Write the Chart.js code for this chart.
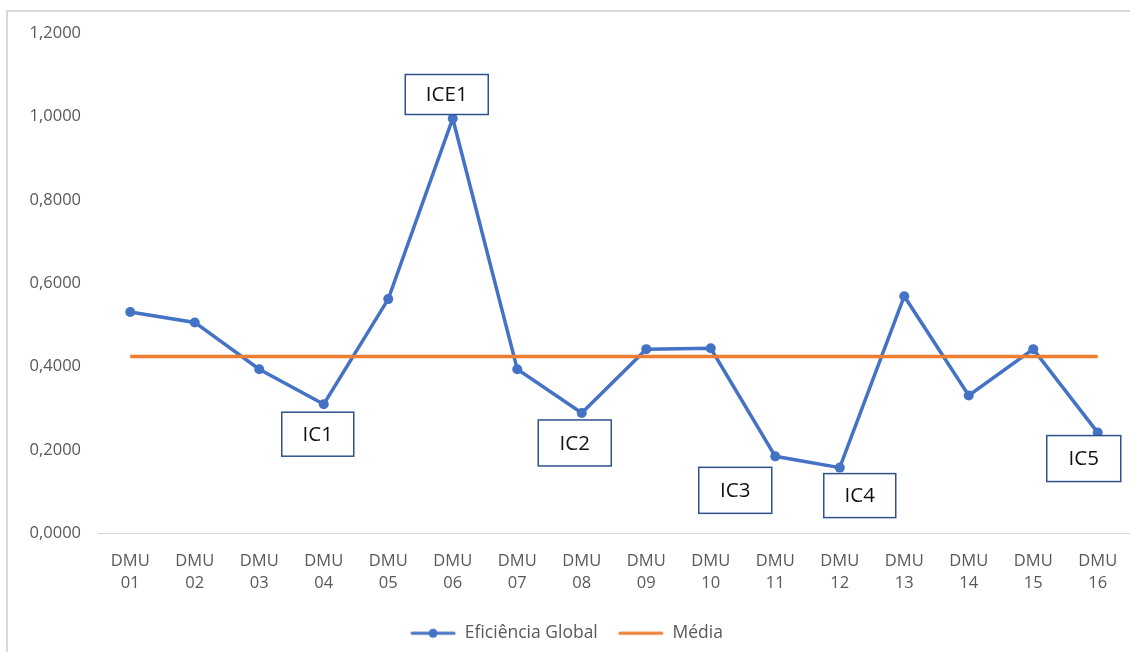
<!DOCTYPE html>
<html>
<head>
<meta charset="utf-8">
<script src="https://cdn.jsdelivr.net/npm/chart.js@4.4.1/dist/chart.umd.min.js"></script>
<style>
  html, body { margin: 0; padding: 0; background: #fff; overflow: hidden; }
  #frame {
    position: absolute; left: 6px; top: 10px;
    width: 1140px; height: 660px;
    border: 2px solid #d9d9d9;
  }
  #wrap { position: absolute; left: 0; top: 0; width: 1135px; height: 652px; }
</style>
</head>
<body>
<div id="frame"></div>
<div id="wrap"><canvas id="chart"></canvas></div>
<script>
// categorias (DMUs)
const dmus = ["01", "02", "03", "04", "05", "06", "07", "08",
              "09", "10", "11", "12", "13", "14", "15", "16"];

// eficiência global de cada DMU
const eficiencia = [0.531, 0.506, 0.394, 0.310, 0.562, 0.995, 0.394, 0.289,
                    0.442, 0.444, 0.185, 0.158, 0.569, 0.331, 0.442, 0.242];

// média geral
const media = [0.4246, 0.4246, 0.4246, 0.4246, 0.4246, 0.4246, 0.4246, 0.4246,
               0.4246, 0.4246, 0.4246, 0.4246, 0.4246, 0.4246, 0.4246, 0.4246];

// eixo Y
const yTicks = [0, 0.2, 0.4, 0.6, 0.8, 1.0, 1.2];

// rótulos das caixas (índice da DMU + texto)
const caixas = [
    { idx: 5,  texto: "ICE1" },
    { idx: 3,  texto: "IC1" },
    { idx: 7,  texto: "IC2" },
    { idx: 10, texto: "IC3" },
    { idx: 11, texto: "IC4" },
    { idx: 15, texto: "IC5" }
];

// deslocamento de cada caixa em relação ao ponto (centro x, topo y, largura, altura)
const caixaLayout = {
    "ICE1": { dx: -6,  dy: -44, w: 83, h: 40 },
    "IC1":  { dx: -6,  dy: 8,   w: 72, h: 44 },
    "IC2":  { dx: -7,  dy: 7,   w: 73, h: 46 },
    "IC3":  { dx: -40, dy: 11,  w: 73, h: 46 },
    "IC4":  { dx: 20,  dy: 6,   w: 72, h: 44 },
    "IC5":  { dx: -14, dy: 3,   w: 74, h: 46 }
};

const AZUL = "#4472C4";
const LARANJA = "#ED7D31";
const CINZA = "#595959";
const FONTE = "'Open Sans', sans-serif";

// ícones da legenda
function iconeLegenda(cor, comPonto) {
    const c = document.createElement("canvas");
    c.width = 46; c.height = 12;
    const g = c.getContext("2d");
    g.strokeStyle = cor;
    g.lineWidth = 3;
    g.lineCap = "round";
    g.beginPath(); g.moveTo(2, 6); g.lineTo(44, 6); g.stroke();
    if (comPonto) {
        g.fillStyle = cor;
        g.beginPath(); g.arc(23, 6, 4.5, 0, Math.PI * 2); g.fill();
    }
    return c;
}

const caixasPlugin = {
    id: "caixas",
    afterDatasetsDraw(chart) {
        const ctx = chart.ctx;
        const meta = chart.getDatasetMeta(0);
        ctx.save();
        caixas.forEach(c => {
            const p = meta.data[c.idx];
            const l = caixaLayout[c.texto];
            const x = p.x + l.dx - l.w / 2;
            const y = p.y + l.dy;
            ctx.fillStyle = "#ffffff";
            ctx.fillRect(x, y, l.w, l.h);
            ctx.strokeStyle = "#2F528F";
            ctx.lineWidth = 1.5;
            ctx.strokeRect(x, y, l.w, l.h);
            ctx.fillStyle = "#111111";
            ctx.font = "20.5px " + FONTE;
            ctx.textAlign = "center";
            ctx.textBaseline = "middle";
            ctx.fillText(c.texto, x + l.w / 2, y + l.h / 2 + 1);
        });
        ctx.restore();
    }
};

new Chart(document.getElementById("chart"), {
    type: "line",
    data: {
        labels: dmus.map(d => ["DMU", d]),
        datasets: [{
            label: "Eficiência Global",
            data: eficiencia,
            borderColor: AZUL,
            backgroundColor: AZUL,
            borderWidth: 3.5,
            pointRadius: 5,
            pointBorderWidth: 0,
            pointStyle: "circle",
            tension: 0,
            order: 1
        }, {
            label: "Média",
            data: media,
            borderColor: LARANJA,
            backgroundColor: LARANJA,
            borderWidth: 3.5,
            pointRadius: 0,
            tension: 0,
            order: 0
        }]
    },
    options: {
        responsive: true,
        maintainAspectRatio: false,
        animation: false,
        layout: { padding: { top: 33, right: 2, left: 0, bottom: 0 } },
        plugins: {
            tooltip: { enabled: false },
            legend: {
                position: "bottom",
                labels: {
                    usePointStyle: true,
                    pointStyleWidth: 46,
                    padding: 20,
                    color: CINZA,
                    font: { family: FONTE, size: 17.5 },
                    generateLabels(chart) {
                        return chart.data.datasets.map((ds, i) => ({
                            text: ds.label,
                            fontColor: CINZA,
                            pointStyle: iconeLegenda(ds.borderColor, i === 0),
                            lineWidth: 0,
                            strokeStyle: "transparent",
                            fillStyle: "transparent",
                            datasetIndex: i
                        }));
                    }
                }
            }
        },
        scales: {
            x: {
                offset: true,
                grid: { display: false, drawTicks: false, offset: true },
                border: { display: true, color: "#d9d9d9", width: 1 },
                ticks: {
                    color: CINZA,
                    padding: 17,
                    maxRotation: 0,
                    autoSkip: false,
                    font: { family: FONTE, size: 16.5, lineHeight: 1.33 }
                },
                afterFit(scale) { scale.height = 71; }
            },
            y: {
                min: 0,
                max: 1.2,
                grid: { display: false, drawTicks: false },
                border: { display: false },
                afterBuildTicks(scale) {
                    scale.ticks = yTicks.map(v => ({ value: v }));
                },
                ticks: {
                    color: CINZA,
                    padding: 17,
                    font: { family: FONTE, size: 16.5 },
                    callback: v => Number(v).toFixed(4).replace(".", ",")
                },
                afterFit(scale) { scale.width = 98; }
            }
        }
    },
    plugins: [caixasPlugin]
});
</script>
</body>
</html>
